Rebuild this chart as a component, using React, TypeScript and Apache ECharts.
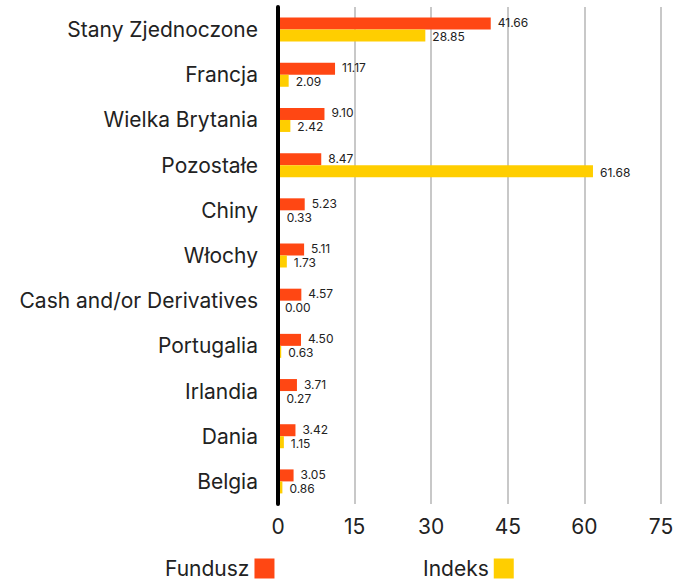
import React, { useEffect, useRef } from "react";
import * as echarts from "echarts";

const categories = [
  "Stany Zjednoczone",
  "Francja",
  "Wielka Brytania",
  "Pozostałe",
  "Chiny",
  "Włochy",
  "Cash and/or Derivatives",
  "Portugalia",
  "Irlandia",
  "Dania",
  "Belgia",
];
const fundusz = [41.66, 11.17, 9.1, 8.47, 5.23, 5.11, 4.57, 4.5, 3.71, 3.42, 3.05];
const indeks = [28.85, 2.09, 2.42, 61.68, 0.33, 1.73, 0.0, 0.63, 0.27, 1.15, 0.86];
const seriesNames = ["Fundusz", "Indeks"];
const colors = ["#ff4713", "#ffce00"];

const FONT = "Inter, 'Noto Sans', sans-serif";

export default function App() {
  const ref = useRef<HTMLDivElement>(null);
  useEffect(() => {
    document.body.style.margin = "0";
    if (!ref.current) return;
    const chart = echarts.init(ref.current, undefined, { renderer: "svg" });
    const baseLabel = {
      show: true,
      position: "right" as const,
      distance: 7,
      fontSize: 12,
      lineHeight: 11,
      fontFamily: FONT,
      color: "#222",
      formatter: (p: any) => Number(p.value).toFixed(2),
    };
    const legendText = { fontSize: 21, color: "#222", fontFamily: FONT };
    chart.setOption({
      animation: false,
      textStyle: { fontFamily: FONT },
      grid: { left: 278, right: 31, top: 7, height: 497, containLabel: false },
      legend: [
        {
          data: [seriesNames[0]],
          left: 160,
          top: 553,
          align: "right",
          itemWidth: 20,
          itemHeight: 20,
          itemGap: 0,
          icon: "rect",
          textStyle: legendText,
        },
        {
          data: [seriesNames[1]],
          left: 418,
          top: 553,
          align: "right",
          itemWidth: 20,
          itemHeight: 20,
          itemGap: 0,
          icon: "rect",
          textStyle: legendText,
        },
      ],
      xAxis: {
        type: "value",
        min: 0,
        max: 75,
        interval: 15,
        axisLine: { show: false },
        axisTick: { show: false },
        axisLabel: { fontSize: 21, color: "#222", margin: 12, fontFamily: FONT },
        splitLine: { show: true, lineStyle: { color: "#c8c8c8", width: 2 } },
      },
      yAxis: {
        type: "category",
        data: categories,
        inverse: true,
        axisLine: { show: true, lineStyle: { color: "#000", width: 4 } },
        axisTick: { show: false },
        axisLabel: { fontSize: 21, color: "#222", margin: 20, fontFamily: FONT },
        z: 5,
      },
      series: [
        {
          name: seriesNames[0],
          type: "bar",
          data: fundusz,
          barWidth: 12,
          barGap: "0%",
          itemStyle: { color: colors[0] },
          label: { ...baseLabel, offset: [0, -1] },
        },
        {
          name: seriesNames[1],
          type: "bar",
          data: indeks,
          barWidth: 12,
          barGap: "0%",
          itemStyle: { color: colors[1] },
          label: { ...baseLabel, offset: [0, 1] },
        },
      ],
    });
    return () => chart.dispose();
  }, []);
  return <div ref={ref} style={{ width: 692, height: 580 }} />;
}
